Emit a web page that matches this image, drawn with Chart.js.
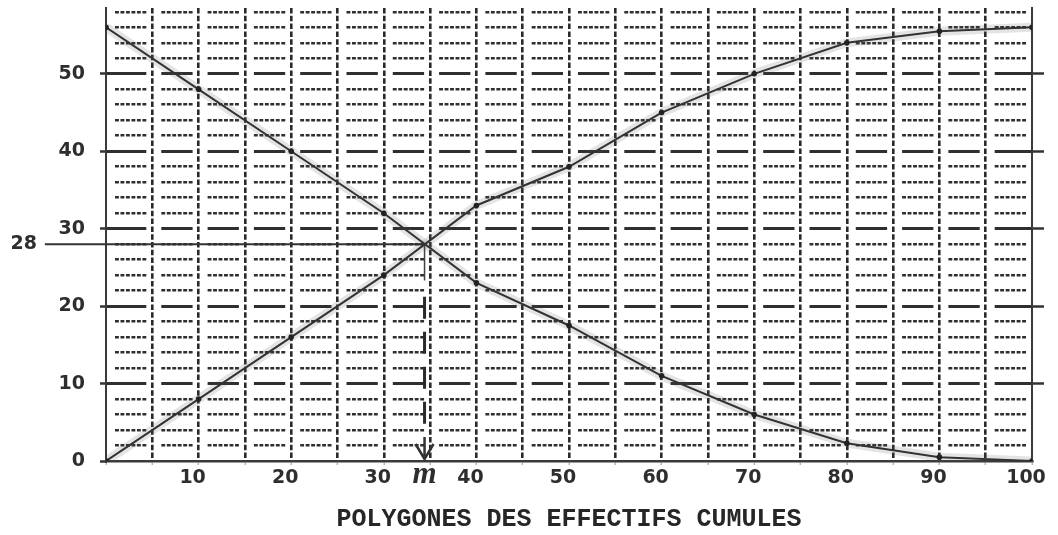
<!DOCTYPE html>
<html>
<head>
<meta charset="utf-8">
<script src="https://cdn.jsdelivr.net/npm/chart.js@4.4.1/dist/chart.umd.min.js"></script>
<style>
  html, body { margin: 0; background: #fff; }
  #cadre { width: 1058px; height: 535px; position: relative; }
</style>
</head>
<body>
<div id="cadre"><canvas id="polygones"></canvas></div>
<script>
// bornes des classes et effectifs cumules
const bornes = [0, 10, 20, 30, 40, 50, 60, 70, 80, 90, 100];
const effectifsCroissants = [0, 8, 16, 24, 33, 38, 45, 50, 54, 55.5, 56];
const effectifsDecroissants = [56, 48, 40, 32, 23, 17.5, 11, 6, 2.3, 0.5, 0];

const graduationsX = [0, 5, 10, 15, 20, 25, 30, 35, 40, 45, 50, 55, 60, 65, 70, 75, 80, 85, 90, 95, 100];
const graduationsY = [0, 2, 4, 6, 8, 10, 12, 14, 16, 18, 20, 22, 24, 26, 28, 30, 32, 34, 36, 38, 40, 42, 44, 46, 48, 50, 52, 54, 56, 58];
const reperesDroite = [10, 20, 30, 40, 50];

// mediane : intersection des deux polygones
const mediane = 34.4;
const niveauMedian = 28;
const traitHorizontalX = [-6.6, mediane];
const traitFinY = [28, 23.3];
const traitTiretY = [21.2, 3.6];

const enPoints = (xs, ys) => xs.map((v, i) => ({ x: v, y: ys[i] }));
const transparent = "rgba(0,0,0,0)";

// motif des lignes horizontales du quadrillage (segments par case)
function motifLigne(plein, largeur) {
  const cell = largeur / 20;
  const motif = [0];
  let pos = 0;
  for (let i = 0; i < 20; i++) {
    const debut = i * cell + (plein && i === 0 ? 0 : 8);
    const fin = (i + 1) * cell - (plein && i === 19 ? 0 : 7);
    motif.push(debut - pos);
    if (plein) {
      motif.push(fin - debut);
    } else {
      const n = 6, trou = 1.6;
      const point = (fin - debut - (n - 1) * trou) / n;
      for (let k = 0; k < n; k++) {
        if (k > 0) motif.push(trou);
        motif.push(point);
      }
    }
    pos = fin;
  }
  motif.push(3000);
  return motif;
}

// pas de marge automatique au-dessus / au-dessous des axes verticaux
const sansMarge = (axis) => { axis.paddingTop = 0; axis.paddingBottom = 0; };

const annotations = {
  id: "annotations",
  afterDatasetsDraw(chart) {
    const { ctx, scales: { x, y } } = chart;
    ctx.save();
    ctx.fillStyle = "#2e2e2e";
    ctx.font = 'bold 19px "DejaVu Sans"';
    ctx.textAlign = "right";
    ctx.textBaseline = "middle";
    ctx.fillText(String(niveauMedian), x.getPixelForValue(traitHorizontalX[0]) - 8, y.getPixelForValue(niveauMedian));

    ctx.font = 'bold italic 31px "Liberation Serif"';
    ctx.textAlign = "center";
    ctx.textBaseline = "alphabetic";
    ctx.fillText("m", x.getPixelForValue(mediane), y.bottom + 22);

    // fleche vers l'axe
    const px = x.getPixelForValue(mediane);
    const py = y.getPixelForValue(0) - 2;
    ctx.strokeStyle = "#333";
    ctx.lineWidth = 2.5;
    ctx.beginPath();
    ctx.moveTo(px - 9, py - 15);
    ctx.lineTo(px, py);
    ctx.lineTo(px + 9, py - 15);
    ctx.moveTo(px, py - 22);
    ctx.lineTo(px, py);
    ctx.stroke();
    ctx.restore();
  },
};

const ctx = document.getElementById("polygones").getContext("2d");

new Chart(ctx, {
  type: "line",
  data: {
    datasets: [
      {
        label: "Effectifs cumulés croissants",
        data: enPoints(bornes, effectifsCroissants),
        borderColor: "#333",
        borderWidth: 2,
        pointRadius: 2.8,
        pointBackgroundColor: "#222",
        pointBorderWidth: 0,
        order: 1,
      },
      {
        label: "Effectifs cumulés décroissants",
        data: enPoints(bornes, effectifsDecroissants),
        borderColor: "#333",
        borderWidth: 2,
        pointRadius: 2.8,
        pointBackgroundColor: "#222",
        pointBorderWidth: 0,
        order: 1,
      },
      {
        data: enPoints(traitHorizontalX, [niveauMedian, niveauMedian]),
        borderColor: "#333",
        borderWidth: 2,
        pointRadius: 0,
        clip: false,
        order: 2,
      },
      {
        data: enPoints([mediane, mediane], traitFinY),
        borderColor: "#444",
        borderWidth: 1.5,
        pointRadius: 0,
        order: 2,
      },
      {
        data: enPoints([mediane, mediane], traitTiretY),
        borderColor: "#2a2a2a",
        borderWidth: 3,
        borderDash: [22, 13],
        pointRadius: 0,
        order: 2,
      },
      {
        data: enPoints(bornes, effectifsCroissants),
        borderColor: "rgba(90,90,90,0.16)",
        borderWidth: 9,
        pointRadius: 0,
        order: 3,
      },
      {
        data: enPoints(bornes, effectifsDecroissants),
        borderColor: "rgba(90,90,90,0.16)",
        borderWidth: 9,
        pointRadius: 0,
        order: 3,
      },
    ],
  },
  options: {
    responsive: true,
    maintainAspectRatio: false,
    animation: false,
    layout: { padding: { top: 8, left: 0, right: 0, bottom: 0 } },
    plugins: {
      legend: { display: false },
      tooltip: { enabled: false },
      title: {
        display: true,
        position: "bottom",
        fullSize: false,
        text: "POLYGONES DES EFFECTIFS CUMULES",
        color: "#262626",
        font: { family: '"Liberation Mono"', size: 25, weight: "bold", lineHeight: 1.2 },
        padding: { top: 10, bottom: 0 },
      },
    },
    scales: {
      x: {
        type: "linear",
        min: 0,
        max: 100,
        afterBuildTicks: (axis) => { axis.ticks = graduationsX.map((v) => ({ value: v })); },
        afterFit: (axis) => { axis.height = 34; },
        ticks: {
          autoSkip: false,
          maxRotation: 0,
          padding: 2,
          labelOffset: -6,
          color: "#2e2e2e",
          font: { family: '"DejaVu Sans"', size: 19, weight: "bold" },
          callback: (v) => (v % 10 === 0 && v > 0 ? String(v) : ""),
        },
        grid: {
          color: (c) => (c.tick && (c.tick.value === 0 || c.tick.value === 100) ? transparent : "#2a2a2a"),
          lineWidth: 2.6,
          tickLength: 4,
          tickWidth: 1.5,
          tickColor: "#b5b5b5",
          tickBorderDash: [],
          borderDash: [5.5, 2.3],
        },
        border: {
          color: "#3a3a3a",
          width: 2.5,
          dash: (c) => (c.tick ? [5.5, 2.3] : []),
        },
      },
      y: {
        type: "linear",
        min: 0,
        max: 58.5,
        afterBuildTicks: (axis) => { axis.ticks = graduationsY.map((v) => ({ value: v })); },
        afterFit: (axis) => { axis.width = 106; sansMarge(axis); },
        ticks: {
          autoSkip: false,
          padding: 15,
          color: "#2e2e2e",
          font: { family: '"DejaVu Sans"', size: 19, weight: "bold" },
          callback: (v) => (v % 10 === 0 && v <= 50 ? String(v) : ""),
        },
        grid: {
          color: (c) => (c.tick && c.tick.value === 0 ? transparent : "#2f2f2f"),
          lineWidth: (c) => (c.tick && c.tick.value % 10 === 0 ? 3 : 2.6),
          tickLength: 6,
          tickWidth: 2.5,
          tickColor: (c) => (c.tick && c.tick.value % 10 === 0 && c.tick.value <= 50 ? "#333" : transparent),
          tickBorderDash: [],
        },
        border: {
          color: "#3a3a3a",
          width: 2,
          dash: (c) => {
            if (!c.tick || !c.chart.chartArea) return [];
            return motifLigne(c.tick.value % 10 === 0, c.chart.chartArea.width);
          },
        },
      },
      y2: {
        type: "linear",
        position: "right",
        min: 0,
        max: 58.5,
        afterBuildTicks: (axis) => { axis.ticks = reperesDroite.map((v) => ({ value: v })); },
        afterFit: (axis) => { axis.width = 26; sansMarge(axis); },
        ticks: { display: false },
        grid: {
          drawOnChartArea: false,
          tickLength: 12,
          tickWidth: 2.5,
          tickColor: "#333",
          tickBorderDash: [],
        },
        border: { color: "#3a3a3a", width: 2 },
      },
    },
  },
  plugins: [annotations],
});
</script>
</body>
</html>
